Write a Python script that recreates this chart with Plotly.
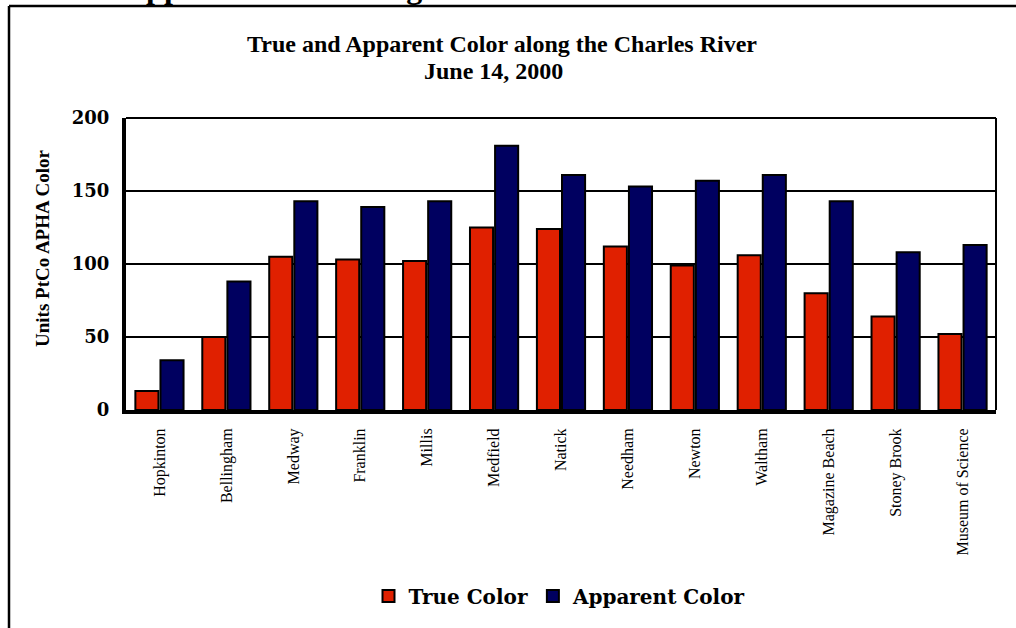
import plotly.graph_objects as go

sites = ["Hopkinton", "Bellingham", "Medway", "Franklin", "Millis", "Medfield",
         "Natick", "Needham", "Newton", "Waltham", "Magazine Beach",
         "Stoney Brook", "Museum of Science"]
true_color = [13, 50, 105, 103, 102, 125, 124, 112, 99, 106, 80, 64, 52]
apparent_color = [34, 88, 143, 139, 143, 181, 161, 153, 157, 161, 143, 108, 113]
y_ticks = [0, 50, 100, 150, 200]

RED = "rgb(224,32,0)"
NAVY = "rgb(0,0,96)"
SERIF = "Liberation Serif"
WIDE = "DejaVu Serif"

W, H = 1016, 628
ML, MR, MT, MB = 126, 20, 118, 218
PW, PH = W - ML - MR, H - MT - MB


def px(x):
    return (x - ML) / PW


def py(y):
    return (H - MB - y) / PH


fig = go.Figure()
fig.add_trace(go.Bar(x=sites, y=true_color, name="True Color",
                     marker=dict(color=RED, line=dict(color="black", width=2))))
fig.add_trace(go.Bar(x=sites, y=apparent_color, name="Apparent Color",
                     marker=dict(color=NAVY, line=dict(color="black", width=2))))

fig.update_layout(
    width=W, height=H,
    margin=dict(l=ML, r=MR, t=MT, b=MB),
    paper_bgcolor="white", plot_bgcolor="white",
    barmode="group", bargap=0.25, bargroupgap=0.08,
    showlegend=True,
    legend=dict(orientation="h", x=px(560), y=py(596), xanchor="center", yanchor="middle",
                font=dict(family=WIDE, size=20, color="black", weight="bold"),
                bgcolor="rgba(0,0,0,0)", itemwidth=30, traceorder="normal"),
    font=dict(family=SERIF, color="black"),
)

fig.update_xaxes(
    showline=True, linecolor="black", linewidth=4,
    tickangle=-90, tickfont=dict(family=SERIF, size=16, color="black"),
    ticks="", ticklabelstandoff=8, showgrid=False,
)
fig.update_yaxes(
    range=[0, 200], tickvals=y_ticks, showline=True, linecolor="black", linewidth=4,
    showgrid=True, gridcolor="black", gridwidth=2, zeroline=False,
    tickfont=dict(family=WIDE, size=18, color="black", weight="bold"),
    ticks="", ticklabelstandoff=9,
)

# plot border top & right
fig.add_shape(type="line", xref="paper", yref="paper", x0=0, x1=1, y0=1, y1=1,
              line=dict(color="black", width=2))
fig.add_shape(type="line", xref="paper", yref="paper", x0=1, x1=1, y0=0, y1=1,
              line=dict(color="black", width=2))

# outer frame (extends beyond the view)
fig.add_shape(type="line", xref="paper", yref="paper", x0=px(9), x1=px(9), y0=py(6), y1=py(640),
              line=dict(color="black", width=2.5))
fig.add_shape(type="line", xref="paper", yref="paper", x0=px(9), x1=px(1030), y0=py(6), y1=py(6),
              line=dict(color="black", width=2.5))

# titles
fig.add_annotation(text="<b>True and Apparent Color along the Charles River</b>",
                   xref="paper", yref="paper", x=px(502), y=py(44), xanchor="center", yanchor="middle",
                   showarrow=False, font=dict(family=SERIF, size=24, color="black"))
fig.add_annotation(text="<b>June 14, 2000</b>",
                   xref="paper", yref="paper", x=px(493), y=py(71), xanchor="center", yanchor="middle",
                   showarrow=False, font=dict(family=SERIF, size=24, color="black"))
# clipped heading at the very top
fig.add_annotation(text="<b>Apparent Color along the Charles River</b>",
                   xref="paper", yref="paper", x=px(121), y=py(7), xanchor="left", yanchor="bottom",
                   showarrow=False, font=dict(family=SERIF, size=32, color="black"))
# y-axis title
fig.add_annotation(text="<b>Units PtCo APHA Color</b>",
                   xref="paper", yref="paper", x=px(42), y=py(249), xanchor="center", yanchor="middle",
                   textangle=-90, showarrow=False, font=dict(family=SERIF, size=19, color="black"))

fig.write_html("out.html", config={"displayModeBar": False},
               post_script="document.body.style.margin='0px';")
